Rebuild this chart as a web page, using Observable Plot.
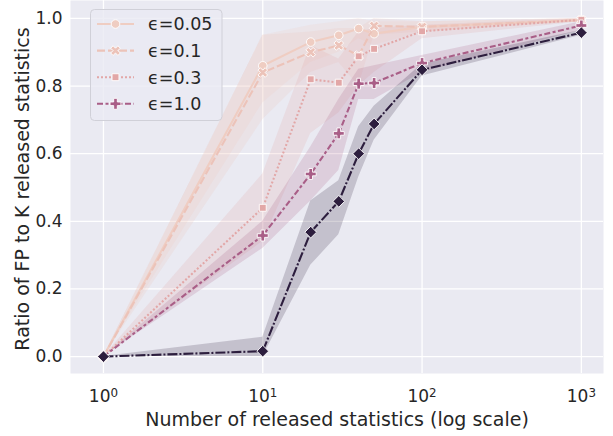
<!DOCTYPE html>
<html>
<head>
<meta charset="utf-8">
<script src="https://cdn.jsdelivr.net/npm/d3@7"></script>
<script src="https://cdn.jsdelivr.net/npm/@observablehq/plot@0.6"></script>
<style>
  html, body { margin: 0; padding: 0; background: white; }
  #chart { position: relative; width: 613px; height: 436px; }
</style>
</head>
<body>
<div id="chart"></div>
<script>
// ---- data ----
const xValues = [1, 10, 20, 30, 40, 50, 100, 1000];
const seriesNames = ["ϵ=0.05", "ϵ=0.1", "ϵ=0.3", "ϵ=1.0", "baseline"];
const legendNames = ["ϵ=0.05", "ϵ=0.1", "ϵ=0.3", "ϵ=1.0"];

const mean005 = [0, 0.86, 0.93, 0.95, 0.97, 0.955, 0.975, 0.995];
const lo005   = [0, 0.75, 0.87, 0.90, 0.94, 0.92, 0.96, 0.99];
const hi005   = [0, 0.95, 0.98, 0.99, 1.00, 0.99, 0.99, 1.00];

const mean01 = [0, 0.84, 0.90, 0.92, 0.89, 0.978, 0.975, 0.995];
const lo01   = [0, 0.70, 0.84, 0.87, 0.80, 0.95, 0.96, 0.99];
const hi01   = [0, 0.95, 0.96, 0.97, 0.97, 1.00, 0.99, 1.00];

const mean03 = [0, 0.44, 0.82, 0.81, 0.888, 0.91, 0.962, 0.996];
const lo03   = [0, 0.34, 0.66, 0.72, 0.80, 0.84, 0.94, 0.99];
const hi03   = [0, 0.54, 0.92, 0.88, 0.96, 0.97, 0.98, 1.00];

const mean10 = [0, 0.358, 0.54, 0.66, 0.807, 0.809, 0.868, 0.979];
const lo10   = [0, 0.32, 0.46, 0.55, 0.76, 0.76, 0.84, 0.965];
const hi10   = [0, 0.40, 0.62, 0.76, 0.85, 0.86, 0.89, 0.99];

const meanBase = [0, 0.016, 0.368, 0.459, 0.600, 0.688, 0.848, 0.958];
const loBase   = [0, 0.0, 0.27, 0.36, 0.53, 0.64, 0.83, 0.95];
const hiBase   = [0, 0.057, 0.46, 0.52, 0.68, 0.74, 0.865, 0.965];

const xTicks = [1, 10, 100, 1000];
const xTickBase = ["10", "10", "10", "10"];
const xTickExp = ["0", "1", "2", "3"];
const yTicks = [0, 0.2, 0.4, 0.6, 0.8, 1.0];
const xLabel = "Number of released statistics (log scale)";
const yLabel = "Ratio of FP to K released statistics";

// ---- styles ----
const colors = ["#efcdc2", "#ecc3b9", "#e2a7a7", "#a95e87", "#2d1e3e"];
const dashes = [null, "8,3", "2,2", "6,2.5,3,2.5", "10,2,2,2"];

// custom symbols
const symX = { draw(ctx, size) {
  const r = Math.sqrt(size / 5) / 2;
  const pts = [[-3*r,-r],[-r,-r],[-r,-3*r],[r,-3*r],[r,-r],[3*r,-r],[3*r,r],[r,r],[r,3*r],[-r,3*r],[-r,r],[-3*r,r]];
  const c = Math.SQRT1_2;
  pts.forEach(([x, y], i) => {
    const X = (x - y) * c, Y = (x + y) * c;
    i ? ctx.lineTo(X, Y) : ctx.moveTo(X, Y);
  });
  ctx.closePath();
}};
const symDiamond = { draw(ctx, size) {
  const h = Math.sqrt(size) * 0.75;
  ctx.moveTo(0, -h); ctx.lineTo(h, 0); ctx.lineTo(0, h); ctx.lineTo(-h, 0); ctx.closePath();
}};
const symbols = [d3.symbolCircle, symX, d3.symbolSquare, d3.symbolCross, symDiamond];
const radii = [4.3, 4.3, 3.9, 4.6, 4.4];

const allMeans = [mean005, mean01, mean03, mean10, meanBase];
const allLo = [lo005, lo01, lo03, lo10, loBase];
const allHi = [hi005, hi01, hi03, hi10, hiBase];

const rows = [];
seriesNames.forEach((s, i) => {
  xValues.forEach((x, j) => {
    rows.push({ series: s, idx: i, x, y: allMeans[i][j], lo: allLo[i][j], hi: allHi[i][j] });
  });
});
const bySeries = seriesNames.map((s, i) => rows.filter(r => r.idx === i));

const marks = [
  Plot.frame({ fill: "#eaeaf2", stroke: null }),
  Plot.gridX(xTicks, { stroke: "white", strokeOpacity: 1, strokeWidth: 1.3 }),
  Plot.gridY(yTicks, { stroke: "white", strokeOpacity: 1, strokeWidth: 1.3 }),
  Plot.axisX(xTicks, {
    tickSize: 0, tickPadding: 16, tickFormat: d => xTickBase[xTicks.indexOf(d)],
    fontSize: 17, label: null
  }),
  Plot.axisY(yTicks, {
    tickSize: 0, tickPadding: 8, tickFormat: d3.format(".1f"),
    fontSize: 17, label: null
  }),
  Plot.text([xLabel], { frameAnchor: "bottom", lineAnchor: "middle", textAnchor: "middle",
    dy: 46, text: d => d, fontSize: 19, fill: "#262626" }),
  Plot.text([yLabel], { frameAnchor: "left", lineAnchor: "middle", textAnchor: "middle",
    dx: -48, dy: 2, rotate: -90, text: d => d, fontSize: 19, fill: "#262626" })
];
bySeries.forEach((d, i) => {
  marks.push(Plot.areaY(d, { x: "x", y1: "lo", y2: "hi", fill: colors[i], fillOpacity: 0.2, curve: "linear" }));
});
bySeries.forEach((d, i) => {
  marks.push(Plot.line(d, { x: "x", y: "y", stroke: colors[i], strokeWidth: 2.1,
    strokeDasharray: dashes[i] ?? undefined, strokeLinecap: "butt", strokeLinejoin: "round" }));
  marks.push(Plot.dot(d, { x: "x", y: "y", symbol: () => symbols[i], r: radii[i],
    fill: colors[i], stroke: "white", strokeWidth: 0.9 }));
});

const plot = Plot.plot({
  width: 613, height: 436,
  marginLeft: 70, marginRight: 10, marginTop: 0, marginBottom: 63,
  x: { type: "log", domain: [0.621, 1377] },
  y: { domain: [-0.05, 1.053] },
  style: { fontFamily: "DejaVu Sans", fontSize: "17px", color: "#262626", background: "white" },
  marks
});
document.getElementById("chart").appendChild(plot);

const svg = d3.select(plot.tagName.toLowerCase() === "svg" ? plot : plot.querySelector("svg"));

// superscript exponents on x tick labels
svg.selectAll('g[aria-label="x-axis tick label"] text').each(function (d, i) {
  d3.select(this).append("tspan").attr("dy", "-0.42em").attr("font-size", "0.7em").text(xTickExp[i]);
});

// ---- legend (inside plot, top-left) ----
const lg = svg.append("g").attr("class", "legend").attr("text-anchor", "start");
lg.append("rect").attr("x", 90.5).attr("y", 9.5).attr("width", 131.5).attr("height", 111)
  .attr("rx", 4).attr("fill", "#eaeaf2").attr("fill-opacity", 0.8)
  .attr("stroke", "#d0d0d8").attr("stroke-width", 1);
legendNames.forEach((name, i) => {
  const cy = 24 + i * 26.6;
  lg.append("line").attr("x1", 97).attr("x2", 134).attr("y1", cy).attr("y2", cy)
    .attr("stroke", colors[i]).attr("stroke-width", 2.1)
    .attr("stroke-dasharray", dashes[i] || null);
  const r = radii[i];
  lg.append("path").attr("transform", `translate(115.5,${cy})`)
    .attr("d", d3.symbol(symbols[i], r * r * Math.PI)())
    .attr("fill", colors[i]).attr("stroke", "white").attr("stroke-width", 0.9);
  lg.append("text").attr("x", 148).attr("y", cy).attr("dy", "0.36em")
    .attr("font-family", "DejaVu Sans").attr("font-size", 17.5).attr("fill", "#262626")
    .attr("text-anchor", "start")
    .text(name);
});
</script>
</body>
</html>
